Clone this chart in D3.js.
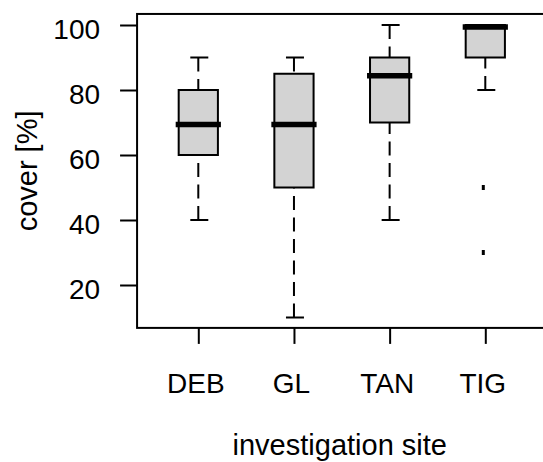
<!DOCTYPE html>
<html>
<head>
<meta charset="utf-8">
<script src="https://cdn.jsdelivr.net/npm/d3@7"></script>
<style>
  body { margin: 0; background: #fff; }
  svg { display: block; }
  text { font-family: "Liberation Sans", Arial, sans-serif; fill: #000; }
</style>
</head>
<body>
<div id="chart"></div>
<script>
///////////////////// Data ////////////////////////
var sites = ["DEB", "GL", "TAN", "TIG"];
// five number summaries
var whiskerLow = [40, 10, 40, 80];
var q1 = [60, 50, 70, 90];
var median = [70, 70, 85, 100];
var q3 = [80, 85, 90, 100];
var whiskerHigh = [90, 90, 100, 100];
// outliers, [site index, value]
var outliers = [[3, 50], [3, 30]];
var yTicks = [20, 40, 60, 80, 100];
///////////////////////////////////////////////////

var width = 543;
var height = 462;

var svg = d3.select("#chart").append("svg")
    .attr("width", width)
    .attr("height", height);

// positions 1..4 for the boxes
var x = d3.scaleLinear().domain([1, 4]).range([198.3, 485.3]);
var y = d3.scaleLinear().domain([20, 100]).range([285, 25]);

var xMin = 0.36, xMax = 4.66;
var yMin = 6.8, yMax = 103.4;
var boxHalf = 0.205;
var capHalf = 9;

// plot frame
svg.append("rect")
    .attr("x", x(xMin))
    .attr("y", y(yMax))
    .attr("width", x(xMax) - x(xMin))
    .attr("height", y(yMin) - y(yMax))
    .attr("fill", "none")
    .attr("stroke", "#000")
    .attr("stroke-width", 2);

// y axis
var yAxis = d3.axisLeft(y).tickValues(yTicks).tickSize(17).tickPadding(20);
var gy = svg.append("g")
    .attr("transform", "translate(" + x(xMin) + ",0)")
    .call(yAxis);
gy.select(".domain").remove();
gy.selectAll(".tick line").attr("stroke", "#000").attr("stroke-width", 2);
gy.selectAll(".tick text")
    .attr("dy", 13)
    .style("font-size", "28px")
    .style("font-family", "'Liberation Sans', Arial, sans-serif")
    .attr("fill", "#000");

// x axis
var xAxis = d3.axisBottom(x).tickValues([1, 2, 3, 4])
    .tickFormat(function (d) { return sites[d - 1]; })
    .tickSize(16).tickPadding(0);
var gx = svg.append("g")
    .attr("transform", "translate(0," + y(yMin) + ")")
    .call(xAxis);
gx.select(".domain").remove();
gx.selectAll(".tick line").attr("stroke", "#000").attr("stroke-width", 2);
gx.selectAll(".tick text")
    .attr("y", 0)
    .attr("dy", 0)
    .attr("transform", "translate(-3,65)")
    .style("font-size", "28px")
    .style("font-family", "'Liberation Sans', Arial, sans-serif")
    .attr("fill", "#000");

// axis titles
svg.append("text")
    .attr("x", (x(xMin) + x(xMax)) / 2 - 3)
    .attr("y", 455)
    .attr("text-anchor", "middle")
    .style("font-size", "29px")
    .text("investigation site");

svg.append("text")
    .attr("transform", "translate(37," + ((y(yMin) + y(yMax)) / 2) + ") rotate(-90)")
    .attr("text-anchor", "middle")
    .style("font-size", "29px")
    .text("cover [%]");

// boxes
var boxes = svg.append("g");
sites.forEach(function (s, i) {
    var cx = x(i + 1);
    var g = boxes.append("g");

    // whiskers, dashed, drawn from the end toward the box
    g.append("line")
        .attr("x1", cx).attr("x2", cx)
        .attr("y1", y(whiskerLow[i])).attr("y2", y(q1[i]))
        .attr("stroke", "#000").attr("stroke-width", 2)
        .attr("stroke-dasharray", "14,7.5");
    g.append("line")
        .attr("x1", cx).attr("x2", cx)
        .attr("y1", y(whiskerHigh[i])).attr("y2", y(q3[i]))
        .attr("stroke", "#000").attr("stroke-width", 2)
        .attr("stroke-dasharray", "14,7.5");

    // caps
    [whiskerLow[i], whiskerHigh[i]].forEach(function (v) {
        g.append("line")
            .attr("x1", cx - capHalf + 1).attr("x2", cx + capHalf + 1)
            .attr("y1", y(v)).attr("y2", y(v))
            .attr("stroke", "#000").attr("stroke-width", 2);
    });

    // box
    g.append("rect")
        .attr("x", x(i + 1 - boxHalf))
        .attr("y", y(q3[i]))
        .attr("width", x(i + 1 + boxHalf) - x(i + 1 - boxHalf))
        .attr("height", y(q1[i]) - y(q3[i]))
        .attr("fill", "#d3d3d3")
        .attr("stroke", "#000")
        .attr("stroke-width", 2);

    // median
    g.append("line")
        .attr("x1", x(i + 1 - boxHalf) - 3)
        .attr("x2", x(i + 1 + boxHalf) + 3)
        .attr("y1", y(median[i]) + 2).attr("y2", y(median[i]) + 2)
        .attr("stroke", "#000").attr("stroke-width", 5.5);
});

// outliers
svg.append("g").selectAll("rect")
    .data(outliers)
    .enter().append("rect")
    .attr("x", function (d) { return x(d[0] + 1) - 3.5; })
    .attr("y", function (d) { return y(d[1]) - 2.5; })
    .attr("width", 3)
    .attr("height", 5)
    .attr("fill", "#000");
</script>
</body>
</html>
